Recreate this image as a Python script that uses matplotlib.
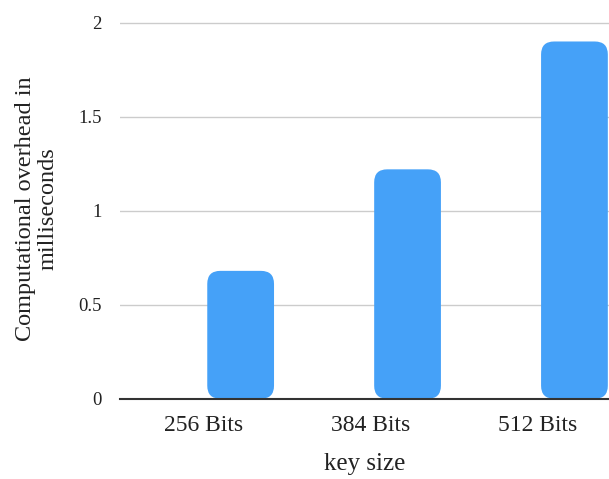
import matplotlib
matplotlib.use("Agg")
import matplotlib.pyplot as plt
from matplotlib.patches import FancyBboxPatch

# key sizes and measured overhead (ms)
key_sizes = ["256 Bits", "384 Bits", "512 Bits"]
overhead_ms = [0.68, 1.22, 1.90]
y_ticks = [0, 0.5, 1, 1.5, 2]
y_tick_labels = ["0", "0.5", "1", "1.5", "2"]

bar_color = "#45a1f8"

plt.rcParams["font.family"] = ["Liberation Serif", "DejaVu Serif"]

fig = plt.figure(figsize=(6.09, 4.79), dpi=100)
ax = fig.add_axes([0.197, 0.1676, 0.803, 0.7929])

x = list(range(len(key_sizes)))
bars = ax.bar([i + 0.023 for i in x], overhead_ms, width=0.40, align="edge",
              color=bar_color, zorder=3)

# swap the plain rectangles for rounded ones
for b in bars:
    b.set_visible(False)
    rb = FancyBboxPatch((b.get_x(), b.get_y()), b.get_width(), b.get_height(),
                        boxstyle="round,pad=0,rounding_size=0.078",
                        mutation_aspect=0.885, facecolor=bar_color,
                        edgecolor="none", zorder=3)
    ax.add_patch(rb)

ax.set_xlim(-0.5, 2.43)
ax.set_ylim(0, 2.02)
ax.set_xticks(x)
ax.set_xticklabels(key_sizes, fontsize=17)
ax.set_yticks(y_ticks)
ax.set_yticklabels(y_tick_labels, fontsize=13.5)
ax.tick_params(axis="x", length=0, pad=12, colors="#222222")
ax.tick_params(axis="y", length=0, pad=13, colors="#222222")

ax.grid(axis="y", color="#cccccc", linewidth=1, zorder=0)
for s in ["top", "right", "left"]:
    ax.spines[s].set_visible(False)
ax.spines["bottom"].set_color("#333333")
ax.spines["bottom"].set_linewidth(1.5)
ax.spines["bottom"].set_zorder(4)

ax.set_xlabel("key size", fontsize=18, labelpad=12, color="#222222")
ax.set_ylabel("Computational overhead in\nmilliseconds", fontsize=17.5,
              labelpad=14, color="#222222", linespacing=1.1)

fig.savefig("out.png", dpi=100)
